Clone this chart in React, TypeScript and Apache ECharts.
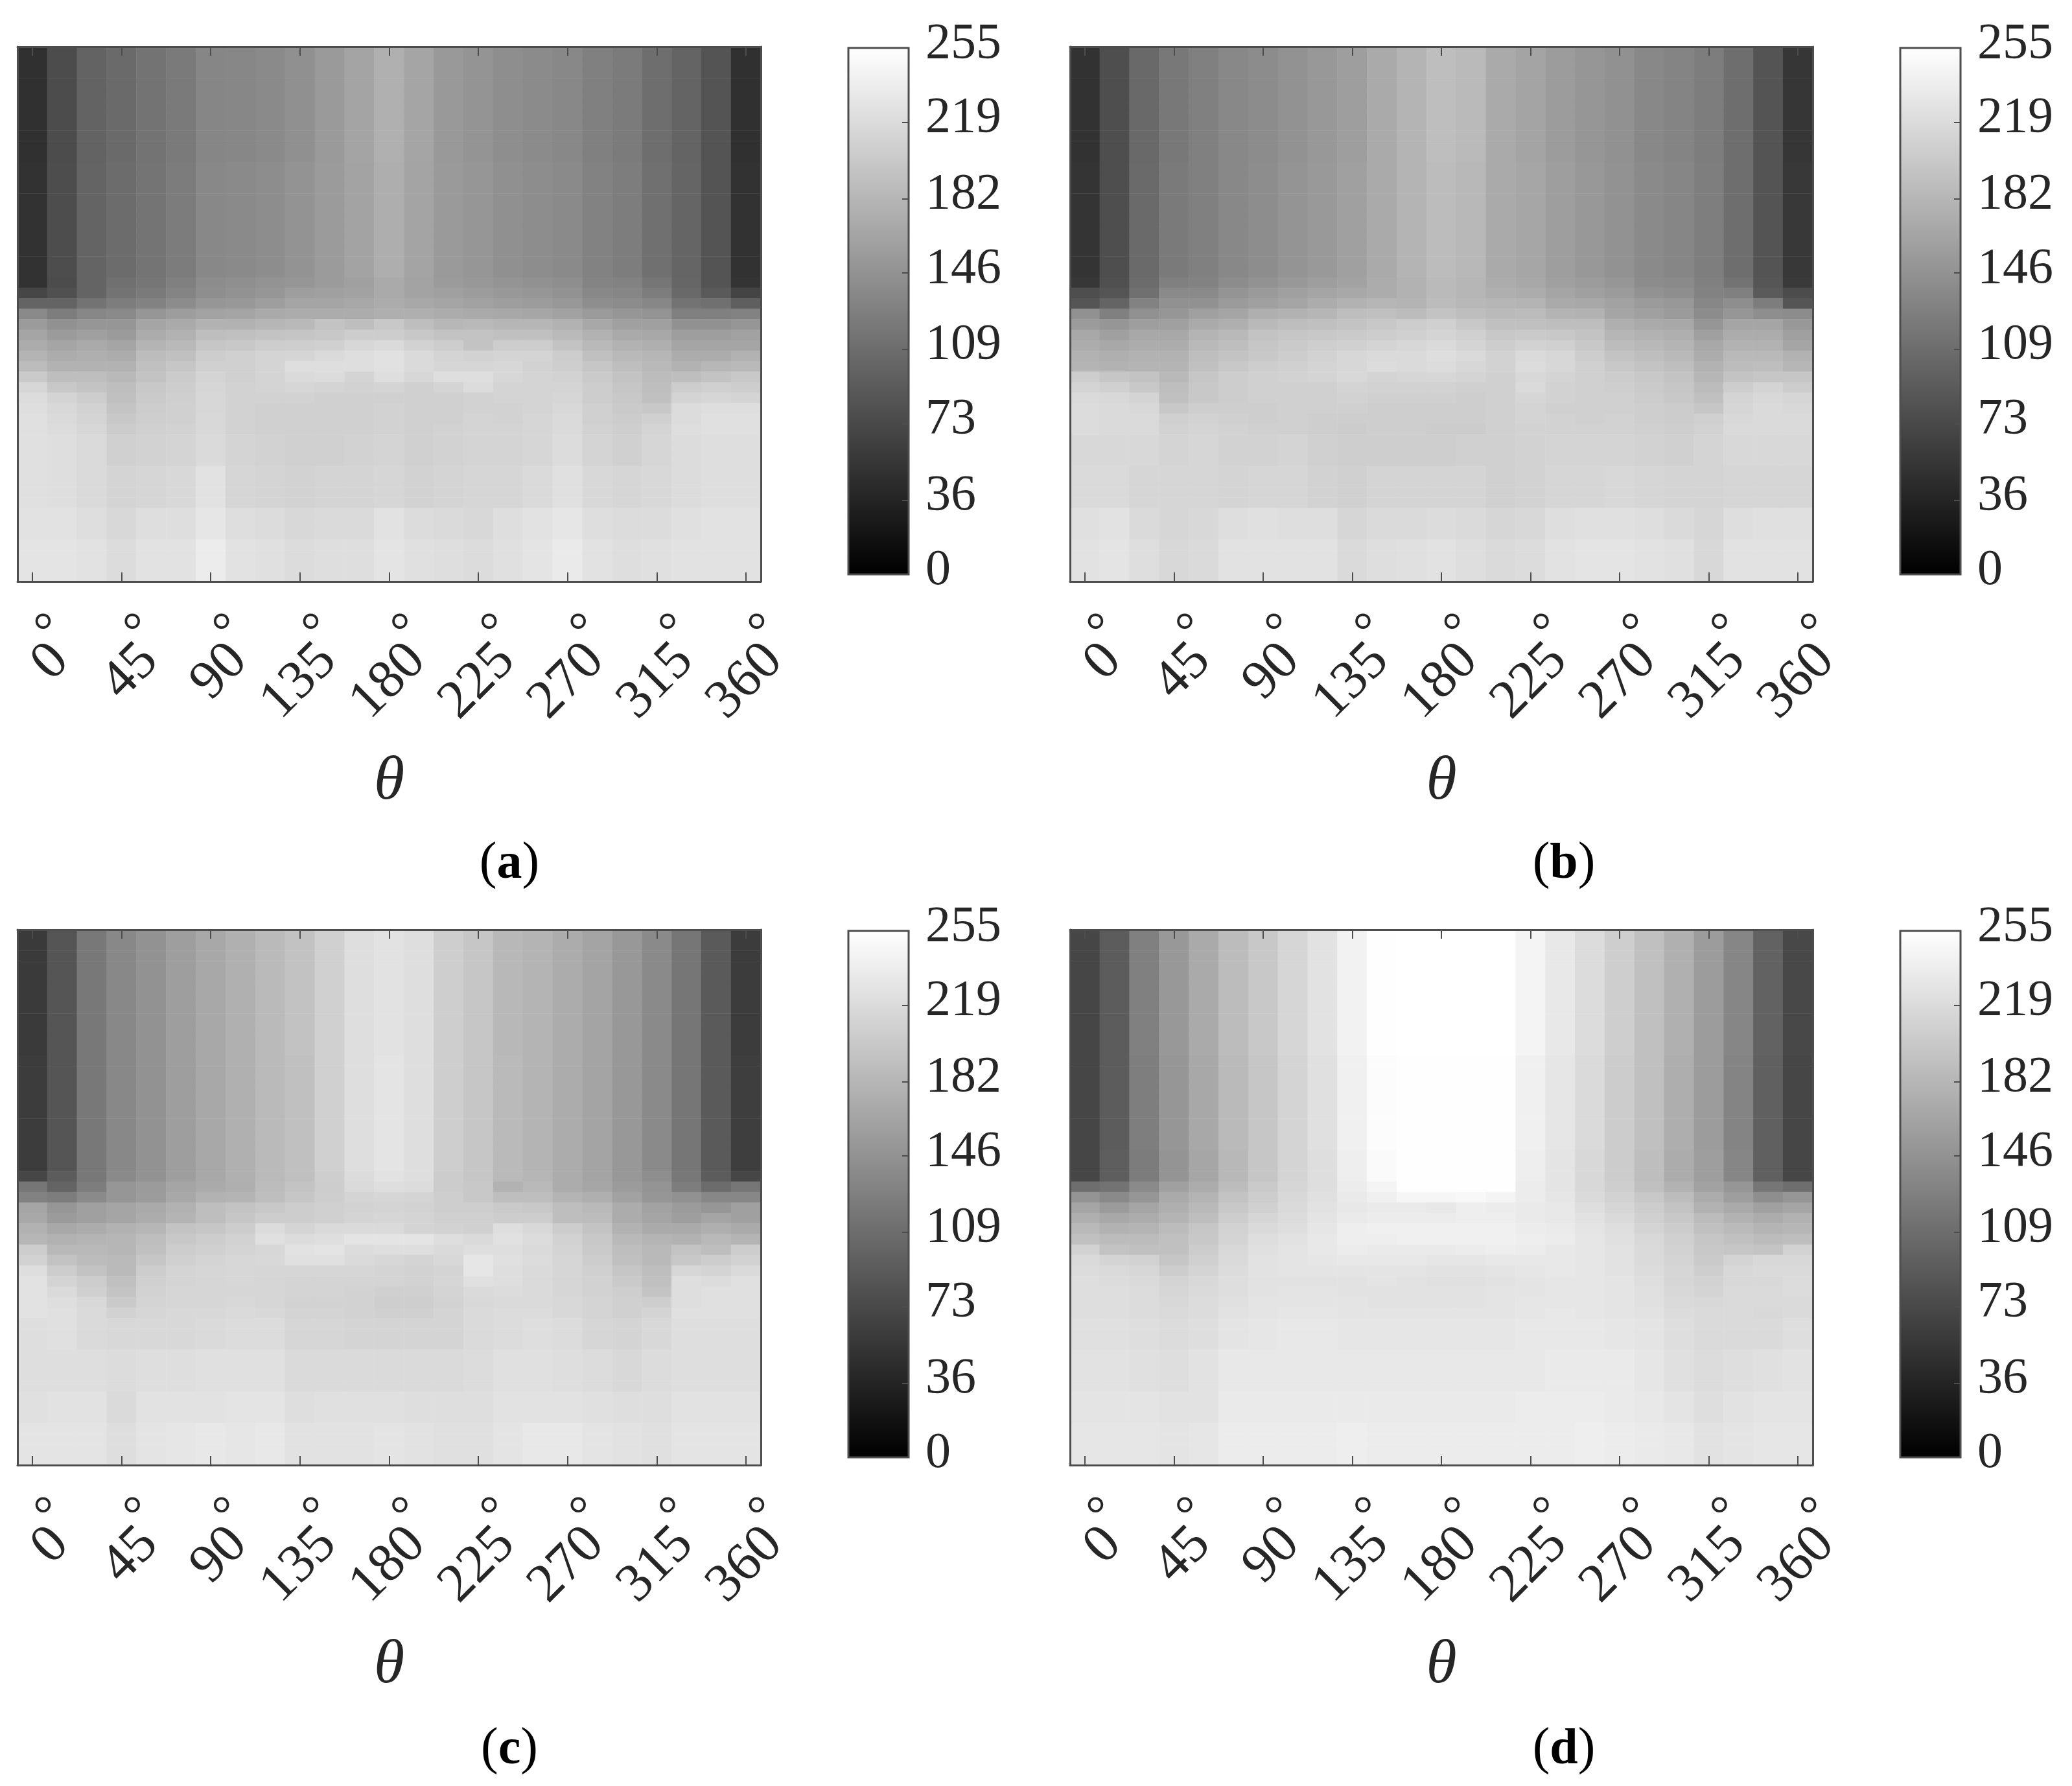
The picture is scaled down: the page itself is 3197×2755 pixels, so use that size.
import React, { useEffect, useRef } from "react";
import * as echarts from "echarts";

const angleLabels = ["0","15","30","45","60","75","90","105","120","135","150","165","180","195","210","225","240","255","270","285","300","315","330","345","360"];
const rowLabels = Array.from({ length: 51 }, (_, i) => String(i + 1));
const colorbarTicks = [0, 36, 73, 109, 146, 182, 219, 255];
const panelLetters = ["a", "b", "c", "d"];

type Band = [number, number[]];

const panelA: Band[] = [
  [11, [48,76,99,106,115,122,134,135,138,144,154,164,176,165,153,148,142,139,136,128,123,110,100,84,48]],
  [11, [50,77,100,108,116,124,136,138,141,147,155,163,174,164,154,150,144,141,138,130,125,112,101,84,50]],
  [1, [50,76,100,112,118,128,140,143,147,150,155,160,170,163,155,152,148,145,142,132,130,118,102,84,52]],
  [1, [70,80,100,115,122,132,142,146,150,158,160,162,170,163,160,156,152,150,146,136,134,125,105,90,68]],
  [1, [100,100,115,125,130,140,150,152,158,165,165,168,172,168,165,162,158,156,152,142,140,135,115,112,95]],
  [1, [138,125,135,138,150,157,163,165,170,172,172,172,175,175,172,170,168,166,162,155,150,148,128,128,130]],
  [1, [155,145,150,150,165,170,178,178,182,185,195,190,200,190,183,185,182,182,178,168,160,160,145,145,150]],
  [1, [165,155,160,155,172,178,190,192,195,197,200,205,205,200,195,195,192,192,186,178,170,168,158,158,162]],
  [1, [172,165,170,165,180,185,198,200,205,206,208,215,218,210,205,195,205,205,195,185,178,175,165,165,165]],
  [1, [180,172,175,172,188,192,205,208,212,213,218,222,225,218,212,210,212,212,205,192,185,182,172,172,178]],
  [1, [188,178,178,178,192,198,208,208,212,222,222,222,225,218,214,214,215,210,206,198,190,185,178,183,185]],
  [1, [202,190,190,185,195,203,212,208,212,218,220,212,222,215,222,222,215,212,210,202,195,188,190,195,200]],
  [1, [215,200,195,190,200,205,214,210,212,214,212,210,212,208,212,220,212,212,212,205,198,190,205,208,205]],
  [1, [220,212,205,192,202,207,215,210,210,210,208,208,208,208,208,210,212,212,214,205,200,192,212,214,212]],
  [1, [222,216,210,196,205,208,215,210,208,208,208,208,210,208,208,210,210,212,216,208,202,200,220,222,222]],
  [1, [224,218,212,200,206,208,216,210,208,208,208,208,210,208,208,212,210,214,218,208,204,208,220,224,224]],
  [1, [224,220,215,204,208,210,216,210,208,208,208,208,210,208,210,212,212,214,218,210,206,212,222,224,224]],
  [3, [224,222,218,208,210,212,218,212,210,208,208,210,212,208,210,212,212,214,220,212,208,214,220,222,222]],
  [4, [224,222,218,212,214,216,226,214,212,210,212,212,214,210,212,214,214,218,224,216,214,216,220,222,222]],
  [3, [226,226,222,216,222,222,230,222,220,216,218,218,226,220,218,216,222,226,230,222,220,220,224,226,226]],
  [4, [228,228,226,220,226,226,236,226,224,220,222,222,228,224,222,220,224,228,234,226,222,224,226,226,226]],
];

const panelB: Band[] = [
  [11, [50,78,105,120,128,136,140,146,152,158,170,180,190,186,170,164,156,150,145,136,132,125,110,84,54]],
  [11, [52,78,106,122,128,136,141,148,153,160,170,180,188,184,170,166,158,152,146,138,134,126,110,84,56]],
  [1, [55,80,108,128,130,140,146,152,158,162,172,178,186,182,172,168,160,156,150,140,138,128,115,86,58]],
  [1, [78,85,112,138,138,148,154,160,165,168,172,178,186,182,175,172,165,160,155,146,142,130,128,90,76]],
  [1, [85,100,130,145,145,155,160,165,172,178,182,180,188,184,182,180,170,168,162,155,152,135,142,125,85]],
  [1, [145,128,145,150,160,165,175,178,182,190,192,188,195,190,186,188,180,178,165,160,155,140,150,142,140]],
  [1, [155,150,158,160,170,175,185,190,192,195,200,205,208,200,192,192,190,190,175,170,168,150,165,165,152]],
  [1, [168,160,168,168,180,185,195,198,200,202,205,208,212,208,200,202,200,195,182,178,175,160,172,172,160]],
  [1, [172,168,172,172,185,190,198,202,206,208,212,215,218,212,205,210,208,200,188,184,180,168,178,178,165]],
  [1, [178,175,178,178,190,195,200,205,210,215,218,218,222,218,210,218,215,205,195,190,185,172,185,185,178]],
  [1, [180,178,180,180,192,200,205,208,212,215,220,218,220,215,210,220,215,208,200,195,190,178,188,190,182]],
  [1, [205,198,195,185,198,205,208,210,212,216,212,214,215,212,208,216,212,208,204,200,195,182,195,198,198]],
  [1, [212,208,200,190,200,205,208,208,208,212,210,210,210,208,208,218,210,208,206,202,198,188,205,212,205]],
  [1, [218,216,212,192,200,205,208,208,208,210,208,208,208,206,208,214,210,208,208,204,200,192,212,216,214]],
  [1, [220,218,216,200,206,206,206,208,208,208,206,206,206,206,208,212,208,208,208,206,204,198,214,218,216]],
  [1, [220,218,218,208,210,208,206,208,206,206,206,206,206,206,208,212,210,208,210,206,204,208,216,218,218]],
  [1, [220,218,218,210,212,210,208,208,206,204,206,206,204,204,208,210,210,210,210,208,206,210,218,218,218]],
  [3, [216,216,216,212,214,210,210,212,208,206,206,206,206,208,208,210,212,212,212,210,208,212,216,216,216]],
  [4, [218,218,214,214,214,212,214,214,210,208,212,212,212,212,208,210,214,214,216,214,212,212,214,214,214]],
  [3, [224,226,218,214,216,222,224,222,222,214,218,218,220,218,214,216,222,224,224,222,218,214,222,224,224]],
  [4, [226,228,222,216,218,226,226,226,226,218,222,224,226,222,218,220,226,228,228,226,224,216,226,226,226]],
];

const panelC: Band[] = [
  [12, [58,85,120,136,146,158,168,176,186,194,208,222,226,222,206,198,184,180,172,164,152,138,118,90,60]],
  [11, [60,85,120,136,146,158,168,176,186,192,208,222,228,222,206,198,186,180,172,164,152,138,118,90,62]],
  [1, [70,92,120,138,146,158,168,176,186,192,206,220,226,222,204,198,186,182,172,164,152,142,120,92,70]],
  [1, [118,100,125,150,155,165,170,175,188,195,205,218,222,220,204,200,178,185,172,166,155,148,125,108,118]],
  [1, [130,125,138,150,156,168,178,180,190,198,206,212,214,212,206,200,190,190,180,175,162,150,145,135,135]],
  [1, [165,150,160,165,170,178,190,195,200,205,208,210,212,210,206,206,202,200,190,185,172,162,155,150,160]],
  [1, [168,155,160,165,172,180,190,198,205,205,208,212,214,212,208,208,205,205,190,188,172,165,158,165,160]],
  [1, [178,168,172,178,182,195,198,205,220,212,218,218,218,212,210,208,222,216,205,195,178,170,170,175,170]],
  [1, [182,178,180,182,190,200,205,210,224,220,222,228,228,228,222,218,225,220,210,200,185,180,178,185,180]],
  [1, [205,185,185,182,192,205,208,212,215,226,228,220,222,222,218,222,222,218,212,202,190,185,195,190,205]],
  [1, [210,195,188,186,198,208,212,215,216,224,224,218,215,212,216,230,224,220,214,205,192,185,200,205,210]],
  [1, [222,205,195,186,205,212,214,215,214,214,214,214,212,210,212,230,222,218,214,208,198,190,215,212,218]],
  [1, [226,212,205,192,208,212,214,215,214,212,212,212,212,210,214,224,222,218,214,210,202,192,222,220,224]],
  [1, [226,218,208,196,210,214,214,214,214,212,212,210,208,208,212,218,220,218,214,210,206,196,222,224,224]],
  [1, [226,222,216,202,212,214,214,216,214,210,210,210,206,206,210,216,218,218,216,212,208,206,222,224,224]],
  [1, [226,224,218,210,214,216,216,218,216,212,212,210,208,208,212,218,220,220,216,212,208,212,224,224,224]],
  [3, [222,224,218,216,216,216,218,220,220,214,214,212,212,212,212,218,220,222,220,214,212,216,222,222,222]],
  [4, [222,222,222,220,222,222,224,224,224,218,218,218,218,218,218,220,224,224,222,220,216,220,222,222,222]],
  [3, [224,226,226,218,226,226,226,228,228,222,224,224,224,222,222,222,226,226,226,224,222,222,226,226,226]],
  [4, [228,228,228,222,228,230,232,230,232,226,226,226,228,226,224,224,228,232,232,228,226,224,228,228,228]],
];

const panelD: Band[] = [
  [12, [70,92,128,152,170,188,200,214,226,242,254,255,255,255,255,244,232,220,206,192,176,156,134,98,72]],
  [9, [70,92,126,150,168,186,198,212,224,240,252,254,254,254,254,240,230,218,204,192,174,156,132,96,70]],
  [3, [70,94,124,148,166,184,198,212,222,238,250,254,254,254,254,238,228,216,204,190,172,158,134,96,70]],
  [1, [110,115,138,160,172,188,202,214,222,236,244,254,254,254,254,236,228,216,206,192,178,162,150,118,110]],
  [1, [148,138,150,170,180,195,205,216,224,234,240,246,246,248,244,236,230,218,210,200,188,172,158,142,150]],
  [1, [165,155,165,175,185,200,208,218,226,232,234,234,232,238,236,234,232,222,214,205,195,178,170,160,165]],
  [1, [175,168,172,180,190,205,214,220,228,234,236,236,236,238,238,234,232,226,218,208,200,188,178,172,178]],
  [1, [185,178,180,188,198,210,218,222,230,238,240,240,240,240,240,236,234,228,222,212,204,192,186,180,182]],
  [1, [192,188,188,192,200,212,222,226,232,238,238,240,240,240,240,238,236,230,224,216,208,198,192,188,190]],
  [1, [210,195,192,192,204,216,224,228,232,236,234,234,234,236,238,236,232,230,226,218,210,200,198,196,210]],
  [1, [218,212,210,198,208,218,226,228,230,232,232,232,230,230,232,232,232,230,226,218,212,202,212,216,216]],
  [1, [220,218,215,205,212,220,226,228,228,228,228,228,226,226,228,230,232,230,226,220,214,206,216,218,218]],
  [1, [222,220,218,212,216,222,226,226,226,226,228,226,224,224,226,228,230,230,228,222,214,210,216,216,220]],
  [1, [222,222,220,214,218,222,226,228,228,226,226,226,226,226,228,228,230,230,228,224,216,212,218,218,220]],
  [1, [222,222,220,216,220,224,228,228,228,228,226,226,226,226,228,230,230,230,228,224,218,216,218,218,218]],
  [1, [222,222,220,218,220,226,228,230,230,228,228,228,228,228,228,230,232,230,228,226,220,218,218,216,218]],
  [3, [224,224,222,220,222,228,230,232,232,230,230,230,230,230,230,232,232,232,230,228,222,218,218,218,222]],
  [4, [226,226,224,222,226,232,232,232,232,232,232,232,232,232,232,232,234,234,234,230,224,220,222,224,226]],
  [3, [228,228,228,226,226,234,234,234,234,234,234,234,234,234,234,236,236,236,234,232,228,222,226,228,228]],
  [4, [230,230,230,228,230,236,236,236,236,238,236,236,236,236,236,236,236,238,236,234,232,226,228,230,230]],
];

const panels = [panelA, panelB, panelC, panelD];

const FONT = "Liberation Serif";
const INK = "#262626";
const FRAME = "#4d4d4d";

const heatRects = [
  { left: 27, top: 72, width: 1147, height: 825 },
  { left: 1651, top: 72, width: 1146, height: 825 },
  { left: 27, top: 1434, width: 1147, height: 826 },
  { left: 1651, top: 1434, width: 1146, height: 826 },
];
const barRects = [
  { left: 1309, top: 74, width: 93, height: 812 },
  { left: 2932, top: 74, width: 93, height: 812 },
  { left: 1309, top: 1436, width: 93, height: 812 },
  { left: 2932, top: 1436, width: 93, height: 812 },
];
const captionPos = [
  { left: 781, top: 1282 },
  { left: 2408, top: 1282 },
  { left: 781, top: 2648 },
  { left: 2408, top: 2648 },
];

function expand(bands: Band[]) {
  const out: number[][] = [];
  let row = 0;
  for (const [count, values] of bands) {
    for (let r = 0; r < count; r++) {
      values.forEach((v, col) => out.push([col, row, v]));
      row++;
    }
  }
  return out;
}

function buildOption() {
  const grid: any[] = [];
  const xAxis: any[] = [];
  const yAxis: any[] = [];
  const series: any[] = [];
  const frameLine = { show: true, onZero: false, lineStyle: { color: FRAME, width: 3 } };

  heatRects.forEach((rect, p) => {
    grid.push({ ...rect, containLabel: false });
    const xIndex = xAxis.length;
    const yIndex = yAxis.length;
    xAxis.push({
      type: "category",
      gridIndex: p,
      position: "bottom",
      data: angleLabels,
      z: 5,
      axisLine: frameLine,
      axisTick: { show: true, inside: true, alignWithLabel: true, interval: 2, length: 14, lineStyle: { color: FRAME, width: 2 } },
      axisLabel: {
        show: true,
        interval: 0,
        rotate: 45,
        margin: 137,
        align: "center",
        verticalAlign: "middle",
        width: 162,
        color: INK,
        fontFamily: FONT,
        fontSize: 78,
        formatter: (v: string, i: number) => (i % 3 === 0 ? `{o|°}\n{d|${v}}` : ""),
        rich: {
          d: { fontFamily: FONT, fontSize: 84, lineHeight: 56, color: INK, align: "right", padding: [0, 31, 0, 0] },
          o: { fontFamily: FONT, fontSize: 78, lineHeight: 10, color: INK, align: "right" },
        },
      },
      name: "θ",
      nameLocation: "middle",
      nameGap: 254,
      nameTextStyle: { fontFamily: FONT, fontStyle: "italic", fontSize: 96, color: INK },
    });
    xAxis.push({
      type: "category",
      gridIndex: p,
      position: "top",
      data: angleLabels,
      z: 5,
      axisLine: frameLine,
      axisTick: { show: true, inside: true, alignWithLabel: true, interval: 2, length: 14, lineStyle: { color: FRAME, width: 2 } },
      axisLabel: { show: false },
    });
    yAxis.push({
      type: "category",
      gridIndex: p,
      position: "left",
      inverse: true,
      data: rowLabels,
      z: 5,
      axisLine: frameLine,
      axisTick: { show: false },
      axisLabel: { show: false },
    });
    yAxis.push({
      type: "category",
      gridIndex: p,
      position: "right",
      inverse: true,
      data: rowLabels,
      z: 5,
      axisLine: frameLine,
      axisTick: { show: false },
      axisLabel: { show: false },
    });
    series.push({
      type: "heatmap",
      xAxisIndex: xIndex,
      yAxisIndex: yIndex,
      data: expand(panels[p]),
      progressive: 0,
      itemStyle: { borderWidth: 0 },
      emphasis: { disabled: true },
    });
  });

  barRects.forEach((rect, p) => {
    const gridIndex = grid.length;
    grid.push({ ...rect, containLabel: false });
    const xIndex = xAxis.length;
    const yIndex = yAxis.length;
    xAxis.push({ type: "value", gridIndex, min: 0, max: 1, show: false });
    yAxis.push({
      type: "value",
      gridIndex,
      position: "right",
      min: 0,
      max: 255,
      z: 5,
      splitLine: { show: false },
      axisLine: { show: false, onZero: false },
      axisTick: { show: true, inside: true, length: 10, customValues: colorbarTicks, lineStyle: { color: FRAME, width: 2 } },
      axisLabel: {
        show: true,
        margin: 26,
        customValues: colorbarTicks,
        color: INK,
        fontFamily: FONT,
        fontSize: 78,
        align: "left",
        verticalAlign: "bottom",
        lineHeight: 24,
      },
    });
    series.push({
      type: "custom",
      xAxisIndex: xIndex,
      yAxisIndex: yIndex,
      data: [[0, 0], [1, 255]],
      encode: { x: 0, y: 1 },
      silent: true,
      z: 2,
      renderItem: (params: any, api: any) => {
        if (params.dataIndex !== 0) return null;
        const a = api.coord([0, 0]);
        const b = api.coord([1, 255]);
        return {
          type: "rect",
          shape: { x: a[0], y: b[1], width: b[0] - a[0], height: a[1] - b[1] },
          style: {
            fill: new echarts.graphic.LinearGradient(0, 0, 0, 1, [
              { offset: 0, color: "#ffffff" },
              { offset: 1, color: "#000000" },
            ]),
            stroke: FRAME,
            lineWidth: 3,
          },
        };
      },
    });
  });

  const title = panelLetters.map((letter, i) => ({
    text: `{p|(}{b|${letter}}{p|)}`,
    left: captionPos[i].left,
    top: captionPos[i].top,
    textAlign: "center",
    textStyle: {
      fontWeight: "normal",
      rich: {
        p: { fontFamily: FONT, fontSize: 80, fontWeight: "normal", color: "#000" },
        b: { fontFamily: FONT, fontSize: 78, fontWeight: "bold", color: "#000" },
      },
    },
  }));

  return {
    animation: false,
    backgroundColor: "#ffffff",
    title,
    grid,
    xAxis,
    yAxis,
    series,
    visualMap: {
      type: "continuous",
      show: false,
      min: 0,
      max: 255,
      dimension: 2,
      seriesIndex: [0, 1, 2, 3],
      inRange: { color: ["#000000", "#ffffff"] },
    },
  };
}

export default function App() {
  const ref = useRef<HTMLDivElement>(null);
  useEffect(() => {
    document.body.style.margin = "0";
    const chart = echarts.init(ref.current!, undefined, { renderer: "svg" });
    chart.setOption(buildOption() as any);
    return () => chart.dispose();
  }, []);
  return <div ref={ref} style={{ width: 3197, height: 2755 }} />;
}
